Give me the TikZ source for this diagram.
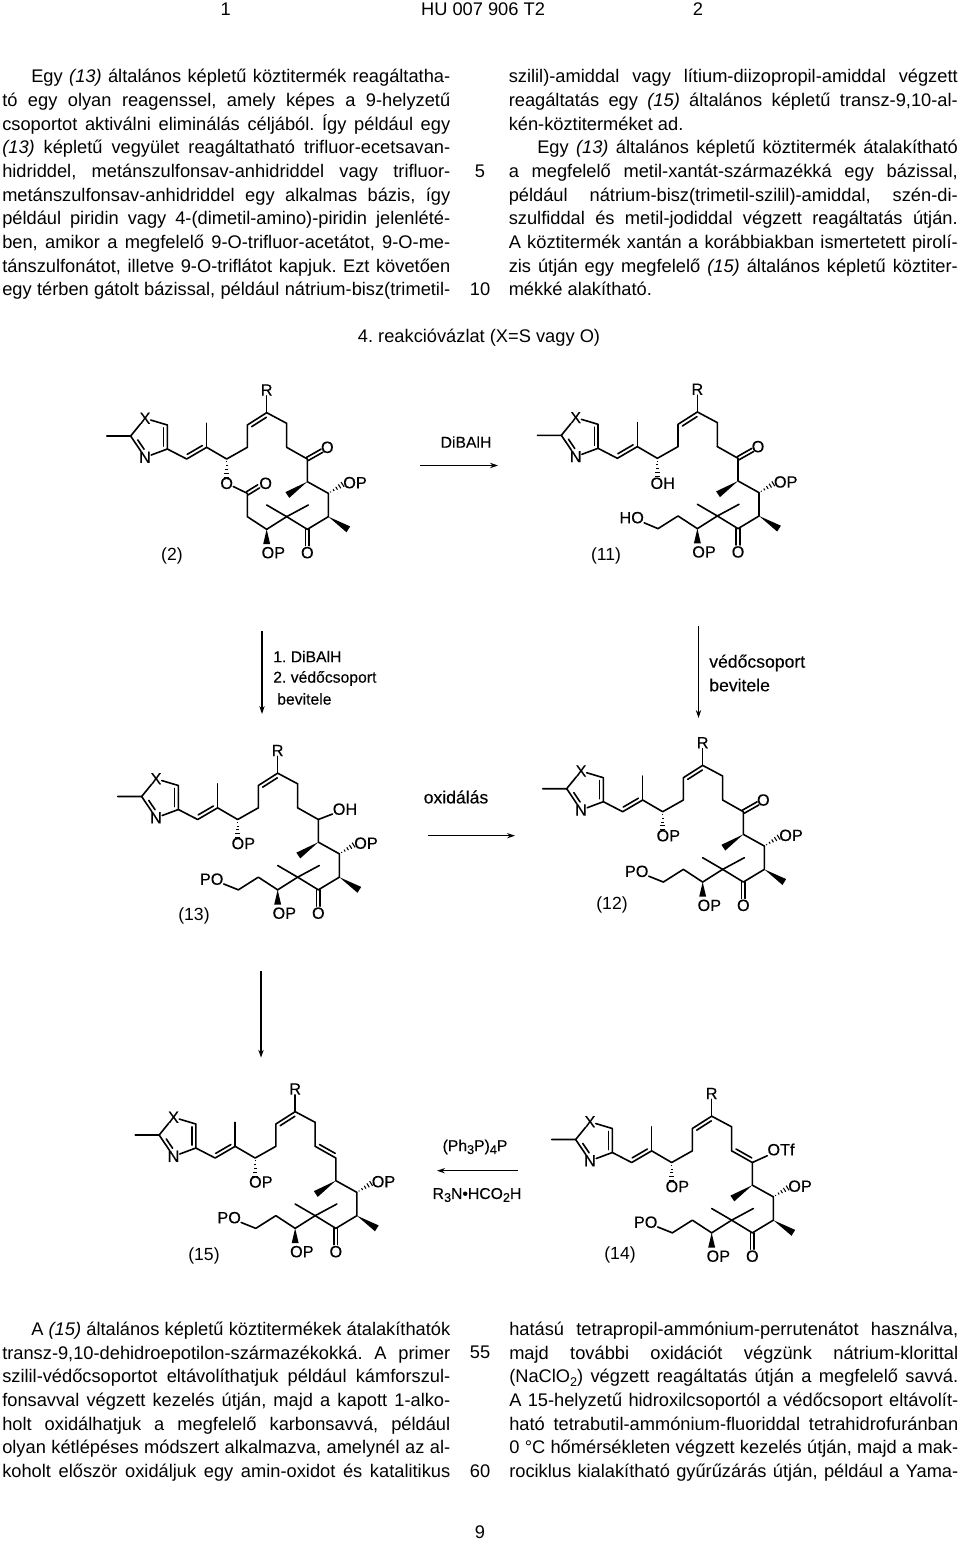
\documentclass[tikz,border=0pt]{standalone}
\usepackage{fontspec}
\setmainfont{Liberation Sans}
\newfontfamily\chemfont[FakeBold=0.15]{Liberation Sans}
\usetikzlibrary{calc,arrows.meta}
\newcount\tlc
\frenchspacing
\newcommand{\bodyfont}{\fontsize{13.7}{15}\selectfont}
\newcommand{\tj}[4]{\global\advance\tlc by 1
  \node[txt] (txt\the\tlc) at (#1,#2) {\hbox to \dimexpr#3pt*3/4\relax{\bodyfont\frenchspacing\spaceskip=.278em plus 1fil minus .12em #4}};}
\newcommand{\tn}[3]{\global\advance\tlc by 1
  \node[txt] (txt\the\tlc) at (#1,#2) {\bodyfont #3};}
\newcommand{\tc}[3]{\global\advance\tlc by 1
  \node[txtc] (txt\the\tlc) at (#1,#2) {\bodyfont #3};}
\newcommand{\sbs}[1]{\raisebox{-.35ex}{\fontsize{9.5}{10}\selectfont #1}}
% --- chemistry helpers
\newcommand{\innerb}[2]{\draw[bond] ($(#1)!0.12!(#2)!2.8pt!90:(#2)$) -- ($(#1)!0.88!(#2)!2.8pt!-90:(#1)$);}
\newcommand{\cdbl}[2]{\draw[bond] ($(#1)!1.35pt!90:(#2)$) -- ($(#2)!1.35pt!-90:(#1)$);
  \draw[bond] ($(#1)!1.35pt!-90:(#2)$) -- ($(#2)!1.35pt!90:(#1)$);}
\newcommand{\wedgeb}[2]{\fill (#1) -- ($(#2)!2.6pt!90:(#1)$) -- ($(#2)!2.6pt!-90:(#1)$) -- cycle;}
\newcommand{\hashb}[2]{\foreach \t/\w in {.15/.35,.35/.8,.55/1.25,.75/1.7,.95/2.1}{
  \draw[line width=.8pt] ($(#1)!\t!(#2)!\w pt!90:(#2)$) -- ($(#1)!\t!(#2)!\w pt!-90:(#2)$);}}
% #1 prefix, #2 dx, #3 dy, #4 variant part
\newcommand{\molecule}[4]{%
\begin{scope}[shift={(#2,#3)},x=0.25pt,y=-0.25pt]
  \coordinate (#1me) at (50,198); \coordinate (#1c2) at (122,198);
  \coordinate (#1c5) at (232,165); \coordinate (#1c4) at (232,237);
  \coordinate (#1v1) at (290,267); \coordinate (#1v2) at (350,232);
  \coordinate (#1vm) at (350,160); \coordinate (#1ch) at (410,267);
  \coordinate (#1a1) at (472,232); \coordinate (#1a2) at (472,165);
  \coordinate (#1d) at (530,128); \coordinate (#1b) at (590,160);
  \coordinate (#1c) at (590,232); \coordinate (#1k) at (652,267);
  \coordinate (#1e) at (652,335); \coordinate (#1em) at (592,375);
  \coordinate (#1f) at (715,370); \coordinate (#1fo) at (760,342);
  \coordinate (#1g) at (715,440); \coordinate (#1gm) at (775,478);
  \coordinate (#1h) at (652,478); \coordinate (#1ho) at (652,527);
  \coordinate (#1i) at (590,440); \coordinate (#1i1) at (530,405);
  \coordinate (#1i2) at (655,405); \coordinate (#1j) at (530,478);
  \coordinate (#1jw) at (530,522); \coordinate (#1hs) at (410,324);
  \coordinate (#1p1) at (472,440); \coordinate (#1p2) at (412,478);
  \node[atom] (#1x) at (165,145) {X};
  \node[atom] (#1n) at (165,262) {N};
  \node[atom] (#1r) at (530,60) {R};
  \node[atom] (#1op1) at (795,338) {OP};
  \node[atom] (#1op2) at (550,548) {OP};
  \node[atom] (#1o1) at (652,548) {O};
  \draw[bond] (#1me) -- (#1c2) -- (#1x);
  \draw[bond] (#1x) -- (#1c5) -- (#1c4) -- (#1n) -- (#1c2);
  \innerb{#1c4}{#1c5}
  \draw[bond] ($(#1c2)!0.28!(#1n)!2.8pt!90:(#1n)$) -- ($(#1c2)!0.72!(#1n)!2.8pt!-90:(#1c2)$);
  \draw[bond] (#1c4) -- (#1v1) -- (#1v2) -- (#1ch) -- (#1a1) -- (#1a2) -- (#1d) -- (#1b) -- (#1c);
  \draw[bond] (#1v2) -- (#1vm);
  \draw[bond] (#1d) -- (#1r);
  \innerb{#1v1}{#1v2}
  \innerb{#1d}{#1a2}
  \draw[bond] (#1c) -- (#1k) -- (#1e) -- (#1f) -- (#1g) -- (#1h) -- (#1i) -- (#1j);
  \draw[bond] (#1i) -- (#1i1);
  \draw[bond] (#1i) -- (#1i2);
  \cdbl{#1h}{#1ho}
  \wedgeb{#1e}{#1em}
  \wedgeb{#1g}{#1gm}
  \wedgeb{#1j}{#1jw}
  \hashb{#1f}{#1fo}
  \hashb{#1ch}{#1hs}
  #4
\end{scope}}
\newcommand{\ketone}[1]{\coordinate (#1ko) at (696,242); \node[atom] (#1o2) at (712,232) {O}; \cdbl{#1k}{#1ko}}
\newcommand{\chainpo}[1]{\node[atom] (#1po) at (332,446) {PO}; \draw[bond] (#1j) -- (#1p1) -- (#1p2) -- (#1po);}
\newcommand{\hashop}[1]{\node[atom] (#1op3) at (427,339) {OP};}
\tikzset{
  bond/.style={line width=1.2pt,line cap=round,line join=round},
  atom/.style={inner sep=0pt,font=\chemfont\fontsize{12.2}{13}\selectfont},
  cmp/.style={inner sep=0pt,font=\fontsize{13.2}{14}\selectfont},
  reag/.style={inner sep=0pt,font=\chemfont\fontsize{11.8}{13}\selectfont},
  reagb/.style={inner sep=0pt,font=\chemfont\fontsize{13.2}{14}\selectfont},
  reagl/.style={reag,anchor=west},
  reagm/.style={reagb,anchor=west},
  txt/.style={inner sep=0pt,anchor=base west},
  txtc/.style={inner sep=0pt,anchor=base},
  arr/.style={line width=.9pt,-{Stealth[length=6pt,width=4pt]}}
}
\begin{document}
\begin{tikzpicture}[x=0.75pt,y=-0.75pt]
\fill[white] (0,0) rectangle (960,1541);
\useasboundingbox (0,0) rectangle (960,1541);
% header
\tc{225.7}{16}{1}
\tc{483}{16}{HU 007 906 T2}
\tc{698}{16}{2}
% left column top
\tj{31}{82.8}{419}{Egy \textit{(13)} általános képletű köztitermék reagáltatha-}
\tj{2}{106.5}{448}{tó egy olyan reagenssel, amely képes a 9-helyzetű}
\tj{2}{130.1}{448}{csoportot aktiválni eliminálás céljából. Így például egy}
\tj{2}{153.8}{448}{\textit{(13)} képletű vegyület reagáltatható trifluor-ecetsavan-}
\tj{2}{177.5}{448}{hidriddel, metánszulfonsav-anhidriddel vagy trifluor-}
\tj{2}{201.2}{448}{metánszulfonsav-anhidriddel egy alkalmas bázis, így}
\tj{2}{224.8}{448}{például piridin vagy 4-(dimetil-amino)-piridin jelenlété-}
\tj{2}{248.5}{448}{ben, amikor a megfelelő 9-O-trifluor-acetátot, 9-O-me-}
\tj{2}{272.2}{448}{tánszulfonátot, illetve 9-O-triflátot kapjuk. Ezt követően}
\tj{2}{295.9}{448}{egy térben gátolt bázissal, például nátrium-bisz(trimetil-}
% right column top
\tj{508.5}{82.8}{449}{szilil)-amiddal vagy lítium-diizopropil-amiddal végzett}
\tj{508.5}{106.5}{449}{reagáltatás egy \textit{(15)} általános képletű transz-9,10-al-}
\tn{508.5}{130.1}{kén-köztiterméket ad.}
\tj{537}{153.8}{420.5}{Egy \textit{(13)} általános képletű köztitermék átalakítható}
\tj{508.5}{177.5}{449}{a megfelelő metil-xantát-származékká egy bázissal,}
\tj{508.5}{201.2}{449}{például nátrium-bisz(trimetil-szilil)-amiddal, szén-di-}
\tj{508.5}{224.8}{449}{szulfiddal és metil-jodiddal végzett reagáltatás útján.}
\tj{508.5}{248.5}{449}{A köztitermék xantán a korábbiakban ismertetett pirolí-}
\tj{508.5}{272.2}{449}{zis útján egy megfelelő \textit{(15)} általános képletű köztiter-}
\tn{508.5}{295.9}{mékké alakítható.}
% line numbers
\tc{480}{177.5}{5}
\tc{480}{295.9}{10}
\tc{480}{1358.5}{55}
\tc{480}{1477.3}{60}
\tc{480}{1538}{9}
\tc{479}{342.7}{4. reakcióvázlat (X=S vagy O)}
% bottom left
\tj{31}{1335.7}{419}{A \textit{(15)} általános képletű köztitermékek átalakíthatók}
\tj{2}{1359.3}{448}{transz-9,10-dehidroepotilon-származékokká. A primer}
\tj{2}{1382.9}{448}{szilil-védőcsoportot eltávolíthatjuk például kámforszul-}
\tj{2}{1406.5}{448}{fonsavval végzett kezelés útján, majd a kapott 1-alko-}
\tj{2}{1430.1}{448}{holt oxidálhatjuk a megfelelő karbonsavvá, például}
\tj{2}{1453.7}{448}{olyan kétlépéses módszert alkalmazva, amelynél az al-}
\tj{2}{1477.3}{448}{koholt először oxidáljuk egy amin-oxidot és katalitikus}
% bottom right
\tj{509}{1335.7}{449}{hatású tetrapropil-ammónium-perrutenátot használva,}
\tj{509}{1359.3}{449}{majd további oxidációt végzünk nátrium-klorittal}
\tj{509}{1382.9}{449}{(NaClO\sbs{2}) végzett reagáltatás útján a megfelelő savvá.}
\tj{509}{1406.5}{449}{A 15-helyzetű hidroxilcsoportól a védőcsoport eltávolít-}
\tj{509}{1430.1}{449}{ható tetrabutil-ammónium-fluoriddal tetrahidrofuránban}
\tj{509}{1453.7}{449}{0 °C hőmérsékleten végzett kezelés útján, majd a mak-}
\tj{509}{1477.3}{449}{rociklus kialakítható gyűrűzárás útján, például a Yama-}
% molecules
\molecule{ma}{90}{370}{%
  \ketone{ma}
  \node[atom] (maoa) at (410,340) {O};
  \node[atom] (maob) at (527,340) {O};
  \coordinate (maes) at (472,370); \coordinate (maeo) at (506,349);
  \draw[bond] (maj) -- (map1) -- (maes) -- (maoa);
  \cdbl{maes}{maeo}
}
\molecule{mb}{520.7}{369.3}{%
  \ketone{mb}
  \node[atom] (mboh) at (426,342) {OH};
  \node[atom] (mbho) at (333,445) {HO};
  \draw[bond] (mbj) -- (mbp1) -- (mbp2) -- (mbho);
}
\molecule{mc}{101}{730.5}{%
  \hashop{mc}\chainpo{mc}
  \node[atom] (mcoh) at (732,236) {OH};
  \draw[bond] (mck) -- (mcoh);
}
\molecule{md}{526}{722.7}{%
  \hashop{md}\chainpo{md}\ketone{md}
}
\molecule{me}{118.5}{1069}{%
  \hashop{me}\chainpo{me}
  \innerb{mec}{mek}
}
\molecule{mf}{535}{1073.5}{%
  \hashop{mf}\chainpo{mf}
  \innerb{mfc}{mfk}
  \node[atom] (mfot) at (738,228) {OTf};
  \draw[bond] (mfk) -- (mfot);
}
% compound labels
\node[cmp] (l2) at (172,556) {(2)};
\node[cmp] (l11) at (606,556) {(11)};
\node[cmp] (l13) at (194,916) {(13)};
\node[cmp] (l12) at (612,905) {(12)};
\node[cmp] (l15) at (204,1256) {(15)};
\node[cmp] (l14) at (620,1255) {(14)};
% reagents
\node[reag] (r1) at (466,442) {DiBAlH};
\node[reagb] (r2) at (456,797) {oxidálás};
\node[reag] (r3) at (475,1147) {(Ph\sbs{3}P)\sbs{4}P};
\node[reag] (r4) at (477,1195) {R\sbs{3}N•HCO\sbs{2}H};
\node[reagl] (r5) at (273,656.5) {1. DiBAlH};
\node[reagl] (r6) at (273,678.5) {2. védőcsoport};
\node[reagl] (r7) at (277,699) {bevitele};
\node[reagm] (r8) at (709,663) {védőcsoport};
\node[reagm] (r9) at (709,685) {bevitele};
% arrows
\coordinate (a1s) at (420,465.5); \coordinate (a1e) at (498,465.5);
\coordinate (a2s) at (428,835.7); \coordinate (a2e) at (515,835.7);
\coordinate (a3s) at (518,1170.7); \coordinate (a3e) at (437,1170.7);
\coordinate (a4s) at (262,631); \coordinate (a4e) at (262,714);
\coordinate (a5s) at (698.5,626); \coordinate (a5e) at (698.5,718);
\coordinate (a6s) at (261,971); \coordinate (a6e) at (261,1057.7);
\draw[arr] (a1s) -- (a1e);
\draw[arr] (a2s) -- (a2e);
\draw[arr] (a3s) -- (a3e);
\draw[arr] (a4s) -- (a4e);
\draw[arr] (a5s) -- (a5e);
\draw[arr] (a6s) -- (a6e);
\end{tikzpicture}
\end{document}
